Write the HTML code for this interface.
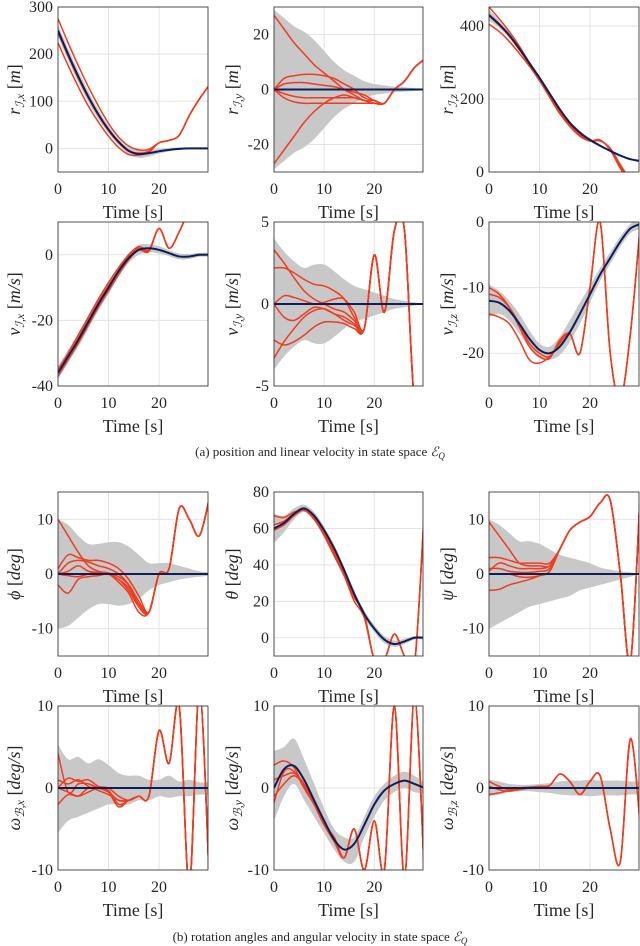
<!DOCTYPE html>
<html><head><meta charset="utf-8"><style>
html,body{margin:0;padding:0;background:#fff;}
svg{display:block;}
text{font-family:"Liberation Serif",serif;fill:#262626;}
</style></head><body>
<svg id="fig" width="640" height="946" viewBox="0 0 640 946" xmlns="http://www.w3.org/2000/svg">
<text x="320" y="456" text-anchor="middle" font-size="13">(a) position and linear velocity in state space <tspan font-style="italic">ℰ</tspan><tspan font-size="9" dy="3" font-style="italic">Q</tspan></text>
<text x="320" y="941" text-anchor="middle" font-size="13">(b) rotation angles and angular velocity in state space <tspan font-style="italic">ℰ</tspan><tspan font-size="9" dy="3" font-style="italic">Q</tspan></text>
</svg>
<script>
const times=[0,2,4,6,8,10,12,14,16,18,20,22,24,26,28,30];
const xTicks=[0,10,20];
// P1 r_x
const rxBlue=[250,200,153,110,72,40,14,-5,-12,-10,-6,-3,-1,0,0,0];
const rxUpper=[262,212,165,121,82,48,20,2,-4,-3,-1,1,2,2,2,2];
const rxLower=[238,188,141,99,62,32,8,-12,-20,-17,-11,-6,-3,-2,-2,-2];
const rxRed1=[275,224,176,131,90,53,24,5,-3,-2,12,17,28,70,105,135];
const rxRed2=[224,176,131,90,56,26,2,-13,-14,-8,12,17,28,70,105,135];
const rxRed3=[245,196,149,107,70,38,12,-6,-10,-6,12,17,28,70,105,135];
// P2 r_y
const ryBlue=[0,0,0,0,0,0,0,0,0,0,0,0,0,0,0,0];
const ryUpper=[29,26,23,21,18,14,10,7,5,3,2,1.5,1,0.8,0.5,0.3];
const ryLower=[-29,-26,-23,-21,-18,-14,-10,-7,-5,-3,-2,-1.5,-1,-0.8,-0.5,-0.3];
const ryRed1=[27,22,17,13,9,6,3,0,-2,-4,-4,-5,0,3,8,11];
const ryRed2=[-27,-22,-17,-12,-8,-5,-3,-2,-3,-4,-5,-5,0,3,8,11];
const ryRed3=[0,4,5,5.5,5.5,5,4,2,0,-3,-4,-5,0,3,8,11];
const ryRed4=[0,-3,-4.5,-5,-5,-5,-5,-5,-5,-5,-5,-5,0,3,8,11];
const ryRed5=[0,2,2.5,2.5,2,1.5,1,0,-1,-2,-4,-5,0,3,8,11];
const ryRed6=[0,-1.5,-2.5,-3,-3,-3,-3,-3,-3,-4,-5,-5,0,3,8,11];
// P3 r_z
const rzBlue=[430,405,375,338,298,258,215,172,135,108,88,72,58,45,35,30];
const rzUpper=[445,415,382,343,303,262,220,177,140,113,92,75,60,47,37,31];
const rzLower=[415,395,368,333,293,254,210,167,130,103,84,69,56,43,33,29];
const rzRed1=[452,420,385,345,300,258,212,166,128,100,85,85,65,20,-20,-40];
const rzRed2=[405,385,358,325,290,250,205,160,125,98,85,88,60,10,-30,-50];
const rzRed3=[428,402,372,335,296,256,212,168,131,104,86,86,62,15,-25,-45];
// P4 v_x
const vxBlue=[-36,-31,-26,-20.5,-15,-10,-5,-1,1.5,2,1.5,0.5,-0.5,-0.5,0,0];
const vxUpper=[-34,-29,-24,-18.5,-13,-8,-3.3,0.5,3,3.2,2.6,1.4,0.4,0.3,0.6,0.6];
const vxLower=[-38,-33,-28,-22.5,-17,-12,-6.7,-2.5,0,0.8,0.4,-0.4,-1.4,-1.3,-0.6,-0.6];
const vxRed1=[-35,-30,-24.5,-19,-13.5,-8.5,-4,0,2.5,1.5,8,2,7,14,20,20];
const vxRed2=[-37,-32,-27,-21.5,-16,-11,-6,-1.5,1.5,1,8,2,7,14,20,20];
const vxRed3=[-36,-31,-25.5,-20,-14.5,-9.5,-5,-0.5,2,1.2,8,2,7,14,20,20];
// P5 v_y
const vyBlue=[0,0,0,0,0,0,0,0,0,0,0,0,0,0,0,0];
const vyUpper=[4,3.2,2.6,2.2,2.4,2.4,2,1.5,1.1,0.9,0.7,0.5,0.3,0.2,0.1,0];
const vyLower=[-4,-3.2,-2.6,-2.2,-2.4,-2.4,-2,-1.5,-1.1,-0.9,-0.7,-0.5,-0.3,-0.2,-0.1,0];
const vyRed1=[3.3,2.5,1.6,0.8,0.3,0,-0.3,-0.5,-1,-1.5,3,-0.5,4.5,4.5,-6,-5];
const vyRed2=[2.2,2.2,1.9,1.5,1.2,1.1,0.8,0.3,-0.8,-1.5,3,-0.5,4.5,4.5,-6,-5];
const vyRed3=[-3.3,-2.3,-1.5,-0.8,-0.4,-0.3,-0.6,-1,-1.3,-1.5,3,-0.5,4.5,4.5,-6,-5];
const vyRed4=[-2.2,-2.5,-2.3,-1.9,-1.4,-1.1,-1.1,-1.2,-1.5,-1.5,3,-0.5,4.5,4.5,-6,-5];
const vyRed5=[0,0.5,0.4,0.2,0,0.1,0.3,0.3,-0.5,-1.5,3,-0.5,4.5,4.5,-6,-5];
const vyRed6=[0,-0.8,-1,-0.6,-0.2,-0.3,-0.6,-0.8,-1.2,-1.5,3,-0.5,4.5,4.5,-6,-5];
// P6 v_z
const vzBlue=[-12,-12.3,-13.5,-15.5,-17.8,-19.5,-20,-19,-16.8,-14,-11,-8,-5.5,-3,-1,-0.3];
const vzUpper=[-9.5,-10.5,-12,-14,-16.5,-18.5,-19,-17.5,-15,-12.3,-9.7,-7,-4.6,-2.2,-0.3,0.5];
const vzLower=[-14.5,-14,-15,-17,-19.2,-20.8,-21,-20.3,-18.3,-15.5,-12.3,-9,-6.4,-3.8,-1.7,-1.1];
const vzRed1=[-10,-11,-13,-16,-19,-20.5,-20.8,-18,-17,-20,-10,0,-20,-27,-17,0];
const vzRed2=[-14,-14.5,-15.5,-18,-21,-21.5,-20.5,-18.5,-17,-20,-10,0,-20,-27,-17,0];
const vzRed3=[-11,-11.5,-13,-15.5,-18.5,-20,-20.5,-18.3,-17,-20,-10,0,-20,-27,-17,0];
// P7 phi
const phBlue=[0,0,0,0,0,0,0,0,0,0,0,0,0,0,0,0];
const phUpper=[10,9,7,5.5,5.5,5.8,5.8,5,3.5,2,2,2,1.5,1,0.5,0.3];
const phLower=[-10,-9.5,-8,-6.5,-5.5,-5.5,-5.8,-5.5,-4.5,-3,-2,-1.5,-1,-0.7,-0.5,-0.3];
const phRed1=[10,7,4,1.5,0.5,0.2,-0.5,-2,-5,-7,0,1,12,10,7,14];
const phRed2=[1,3.5,3,2.5,2.5,2,1,-1,-4,-7,0,1,12,10,7,14];
const phRed3=[-2,-3.5,-1,-0.5,-0.3,0,-1,-3,-6,-7,0,1,12,10,7,14];
const phRed4=[0,0.5,1.5,0.5,0.3,0,-1,-2.5,-5.5,-7,0,1,12,10,7,14];
const phRed5=[0,-0.3,-0.5,0,0.2,0,-1.5,-3.5,-7,-7,0,1,12,10,7,14];
const phRed6=[0,2,2.5,2.2,1.5,1,0,-2,-6,-7,0,1,12,10,7,14];
// P8 theta
const thBlue=[60,63,68,71,67,59,49,37,24,13,5,-1,-3.5,-2,0,0];
const thUpper=[68,67,71,73,69,61,51,39,26,15,7,1,-1.5,-0.5,1,1];
const thLower=[52,58,65,69,65,57,47,35,22,11,3,-3,-5,-3.5,-1,-1];
const thRed1=[67,66,69,70,65,56,45,34,22,13,-12,-12,2,-10,-15,72];
const thRed2=[59,62,67,70,65,57,46,34,20,11,-12,-12,2,-10,-15,72];
const thRed3=[62,64,68,70,66,58,47,35,23,12,-12,-12,2,-10,-15,72];
// P9 psi
const psBlue=[0,0,0,0,0,0,0,0,0,0,0,0,0,0,0,0];
const psUpper=[10,9,7.5,6,6,5.5,4.5,3.5,3,2.5,2,1.2,0.8,0.5,0.3,0];
const psLower=[-10,-9,-8,-7,-6,-5.5,-5,-4.5,-4,-3,-2.5,-2,-1.5,-1,-0.5,0];
const psRed1=[9.5,7,4.5,2,1.5,1.5,1.5,4.5,8,9.5,10.5,13,13.5,0,-16,16];
const psRed2=[3,3,2.5,2,2,2,2,4.5,8,9.5,10.5,13,13.5,0,-16,16];
const psRed3=[-3,-2.8,-2,-1.5,-1,-0.3,0.5,4.5,8,9.5,10.5,13,13.5,0,-16,16];
const psRed4=[1,1,0.5,0.3,0.3,0.5,1,4.5,8,9.5,10.5,13,13.5,0,-16,16];
const psRed5=[0,0,0,-0.5,-0.6,-0.3,0.5,4.5,8,9.5,10.5,13,13.5,0,-16,16];
const psRed6=[0.5,2,1.5,1,1,1,1.5,4.5,8,9.5,10.5,13,13.5,0,-16,16];
// P10 w_x
const wxBlue=[0,0,0,0,0,0,0,0,0,0,0,0,0,0,0,0];
const wxUpper=[5.3,3.5,3.8,3,3.5,2.8,1.8,1.5,1.5,1,1,1.5,0.8,1,0.7,0.7];
const wxLower=[-5.5,-4,-3.5,-3,-2.5,-2,-2,-2,-1.5,-1.5,-1,-1.2,-1,-1,-0.8,-0.8];
const wxRed1=[4.2,-0.5,0.5,0.5,0,-0.5,-1.5,-1.5,-1,-1,7,3,10,-12,12,-12];
const wxRed2=[-2,-0.8,-1,0,0,-0.3,-2,-1.5,-1,-1,7,3,10,-12,12,-12];
const wxRed3=[0,1.2,0.8,1,0.2,0,-1,-1.5,-1,-1,7,3,10,-12,12,-12];
const wxRed4=[0,-0.5,-1,-0.5,0,-0.5,-2.3,-1.5,-1,-1,7,3,10,-12,12,-12];
const wxRed5=[1,0.5,1,0.2,-0.3,-0.8,-1.5,-1.5,-1,-1,7,3,10,-12,12,-12];
// P11 w_y
const wyBlue=[0,2.3,2.7,1,-1.5,-4,-6.3,-7.5,-6.8,-4.5,-2,-0.3,0.5,0.9,0.5,0];
const wyUpper=[4.5,5,6,3.5,0.5,-2.5,-5,-6,-6,-3.5,-1,0.5,1.5,2,1.5,0.7];
const wyLower=[-4,-1,0.5,-1.5,-3.5,-5.5,-7.5,-9,-9,-6,-3.5,-1.5,-0.5,0,-0.5,-0.7];
const wyRed1=[2.8,3.3,2.5,0,-2,-4.5,-6,-8.5,-5,-10,-4,-10,10,-11,11,-11];
const wyRed2=[-1.8,2,2,0,-2,-4.5,-6.5,-8.5,-5,-10,-4,-10,10,-11,11,-11];
const wyRed3=[1,1.5,1.8,0.5,-1.8,-4.2,-6.2,-8.5,-5,-10,-4,-10,10,-11,11,-11];
const wyRed4=[-1,0.5,1.5,0.3,-2,-4.5,-6.5,-8.5,-5,-10,-4,-10,10,-11,11,-11];
// P12 w_z
const wzBlue=[0,0,0,0,0,0,0,0,0,0,0,0,0,0,0,0];
const wzUpper=[1,0.8,0.5,0.4,0.4,0.5,0.6,0.8,0.9,0.9,1,0.9,0.9,0.9,0.8,0.8];
const wzLower=[-1,-0.8,-0.5,-0.4,-0.4,-0.5,-0.6,-0.8,-0.9,-0.9,-1,-0.9,-0.9,-0.9,-0.8,-0.8];
const wzRed1=[0.8,0.2,-0.2,0,0.1,0.2,0.3,1.7,0.8,-0.8,0.8,1.5,-5,-9,6,-5];
const wzRed2=[-0.8,-0.6,-0.3,-0.1,0,0.1,0.3,1.7,0.8,-0.8,0.8,1.5,-5,-9,6,-5];
const wzRed3=[0.2,-0.2,-0.4,-0.2,0,0.2,0.3,1.7,0.8,-0.8,0.8,1.5,-5,-9,6,-5];

const plots=[
 {id:'rx',col:0,row:0,ymin:-50,ymax:300,yt:[0,100,200,300],sym:'r',sub:'ℐ,x',unit:'m',b:rxBlue,u:rxUpper,l:rxLower,reds:[rxRed1,rxRed2,rxRed3]},
 {id:'ry',col:1,row:0,ymin:-30,ymax:30,yt:[-20,0,20],sym:'r',sub:'ℐ,y',unit:'m',b:ryBlue,u:ryUpper,l:ryLower,reds:[ryRed1,ryRed2,ryRed3,ryRed4,ryRed5,ryRed6]},
 {id:'rz',col:2,row:0,ymin:0,ymax:452,yt:[0,200,400],sym:'r',sub:'ℐ,z',unit:'m',b:rzBlue,u:rzUpper,l:rzLower,reds:[rzRed1,rzRed2,rzRed3]},
 {id:'vx',col:0,row:1,ymin:-40,ymax:10,yt:[-40,-20,0],sym:'v',sub:'ℐ,x',unit:'m/s',b:vxBlue,u:vxUpper,l:vxLower,reds:[vxRed1,vxRed2,vxRed3]},
 {id:'vy',col:1,row:1,ymin:-5,ymax:5,yt:[-5,0,5],sym:'v',sub:'ℐ,y',unit:'m/s',b:vyBlue,u:vyUpper,l:vyLower,reds:[vyRed1,vyRed2,vyRed3,vyRed4,vyRed5,vyRed6]},
 {id:'vz',col:2,row:1,ymin:-25,ymax:0,yt:[-20,-10,0],sym:'v',sub:'ℐ,z',unit:'m/s',b:vzBlue,u:vzUpper,l:vzLower,reds:[vzRed1,vzRed2,vzRed3]},
 {id:'phi',col:0,row:2,ymin:-15,ymax:15,yt:[-10,0,10],sym:'ϕ',sub:'',unit:'deg',b:phBlue,u:phUpper,l:phLower,reds:[phRed1,phRed2,phRed3,phRed4,phRed5,phRed6]},
 {id:'theta',col:1,row:2,ymin:-10,ymax:80,yt:[0,20,40,60,80],sym:'θ',sub:'',unit:'deg',b:thBlue,u:thUpper,l:thLower,reds:[thRed1,thRed2,thRed3]},
 {id:'psi',col:2,row:2,ymin:-15,ymax:15,yt:[-10,0,10],sym:'ψ',sub:'',unit:'deg',b:psBlue,u:psUpper,l:psLower,reds:[psRed1,psRed2,psRed3,psRed4,psRed5,psRed6]},
 {id:'wx',col:0,row:3,ymin:-10,ymax:10,yt:[-10,0,10],sym:'ω',sub:'ℬ,x',unit:'deg/s',b:wxBlue,u:wxUpper,l:wxLower,reds:[wxRed1,wxRed2,wxRed3,wxRed4,wxRed5]},
 {id:'wy',col:1,row:3,ymin:-10,ymax:10,yt:[-10,0,10],sym:'ω',sub:'ℬ,y',unit:'deg/s',b:wyBlue,u:wyUpper,l:wyLower,reds:[wyRed1,wyRed2,wyRed3,wyRed4]},
 {id:'wz',col:2,row:3,ymin:-10,ymax:10,yt:[-10,0,10],sym:'ω',sub:'ℬ,z',unit:'deg/s',b:wzBlue,u:wzUpper,l:wzLower,reds:[wzRed1,wzRed2,wzRed3]}
];
const colX=[[58,208],[274,423],[489,639]];
const rowY=[[7,172],[222,386],[492,656],[706,870]];
const ylabX=[14,232,447];
const NS='http://www.w3.org/2000/svg';
const svg=document.getElementById('fig');
function mk(tag,attrs,parent){const e=document.createElementNS(NS,tag);for(const k in attrs)e.setAttribute(k,attrs[k]);(parent||svg).appendChild(e);return e;}
function spline(pts){let d='M'+pts[0][0].toFixed(2)+','+pts[0][1].toFixed(2);
 for(let i=0;i<pts.length-1;i++){const p0=pts[i-1]||pts[i],p1=pts[i],p2=pts[i+1],p3=pts[i+2]||p2;
  const c1=[p1[0]+(p2[0]-p0[0])/6,p1[1]+(p2[1]-p0[1])/6],c2=[p2[0]-(p3[0]-p1[0])/6,p2[1]-(p3[1]-p1[1])/6];
  d+='C'+c1[0].toFixed(2)+','+c1[1].toFixed(2)+' '+c2[0].toFixed(2)+','+c2[1].toFixed(2)+' '+p2[0].toFixed(2)+','+p2[1].toFixed(2);}
 return d;}
plots.forEach(p=>{
 const [x0,x1]=colX[p.col],[y0,y1]=rowY[p.row];
 const sx=t=>x0+(t-0)/(29.7-0)*(x1-x0);
 const sy=v=>y1-(v-p.ymin)/(p.ymax-p.ymin)*(y1-y0);
 const g=mk('g',{});
 
 
 const cp=mk('clipPath',{id:'c'+p.id},g);mk('rect',{x:x0,y:y0,width:x1-x0,height:y1-y0},cp);
 mk('rect',{x:x0,y:y0,width:x1-x0,height:y1-y0,fill:'#fff'},g);
 xTicks.forEach(t=>{const l=mk('line',{x1:sx(t),x2:sx(t),y1:y0,y2:y1,stroke:'#e3e3e3','stroke-width':1},g);
  
  const tx=mk('text',{x:sx(t),y:y1+22,'text-anchor':'middle','font-size':16},g);tx.textContent=t;
  });
 p.yt.forEach(v=>{const l=mk('line',{x1:x0,x2:x1,y1:sy(v),y2:sy(v),stroke:'#e3e3e3','stroke-width':1},g);
  
  const tx=mk('text',{x:x0-5,y:sy(v)+5,'text-anchor':'end','font-size':16},g);tx.textContent=v;
  });
 const inner=mk('g',{'clip-path':'url(#c'+p.id+')'},g);
 const up=times.map((t,i)=>[sx(t),sy(p.u[i])]),lo=times.map((t,i)=>[sx(t),sy(p.l[i])]).reverse();
 const bd=spline(up)+spline(lo).replace('M','L')+'Z';
 const band=mk('path',{d:bd,fill:'#c8c8c8',stroke:'none'},inner);
 
 p.reds.forEach(r=>{const pe=mk('path',{d:spline(times.map((t,i)=>[sx(t),sy(r[i])])),fill:'none',stroke:'#f03c1e','stroke-width':1.5},inner);
  });
 const bl=mk('path',{d:spline(times.map((t,i)=>[sx(t),sy(p.b[i])])),fill:'none',stroke:'#0c1f5a','stroke-width':2},inner);
 
 const box=mk('rect',{x:x0,y:y0,width:x1-x0,height:y1-y0,fill:'none',stroke:'#262626','stroke-width':0.8},g);
 
 const xl=mk('text',{x:(x0+x1)/2,y:y1+46,'text-anchor':'middle','font-size':18},g);xl.textContent='Time [s]';
 
 const cy=(y0+y1)/2,lx=ylabX[p.col]+6;
 const yl=mk('text',{x:lx,y:cy,'text-anchor':'middle','font-size':18,transform:'rotate(-90 '+lx+' '+cy+')'},g);
 
 let h='<tspan font-style="italic">'+p.sym+'</tspan>';
 if(p.sub)h+='<tspan font-style="italic" font-size="12" dy="4">'+p.sub+'</tspan><tspan dy="-4"> </tspan>';
 else h+=' ';
 h+='[<tspan font-style="italic">'+p.unit+'</tspan>]';
 yl.innerHTML=h;
});
</script>
</body></html>
